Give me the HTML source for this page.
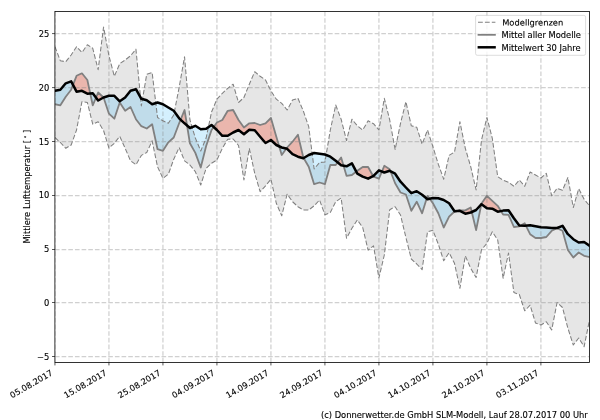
<!DOCTYPE html>
<html lang="de"><head><meta charset="utf-8"><title>Mittlere Lufttemperatur</title>
<style>html,body{margin:0;padding:0;background:#fff}svg{display:block}text{font-family:"DejaVu Sans", "Liberation Sans", sans-serif;font-size:8.33px;fill:#000;stroke:#000;stroke-width:0.12px}</style></head><body>
<svg width="600" height="420" viewBox="0 0 600 420">
<rect width="600" height="420" fill="#fff"/>
<defs><clipPath id="ax"><rect x="54.95" y="11.5" width="534.55" height="351"/></clipPath></defs>
<g clip-path="url(#ax)">
<polygon points="54.95,46.7 60.35,60.8 65.75,61.7 71.15,55 76.55,46.7 81.95,52.5 87.35,44.7 92.75,48.3 98.15,69.7 103.55,27 108.94,55.8 114.34,76.3 119.74,63.7 125.14,60 130.54,55.8 135.94,49.2 141.34,106 146.74,74.2 152.14,72.5 157.54,117.5 162.94,120.8 168.34,123.3 173.74,115 179.14,87.5 184.54,56.8 189.94,120 195.34,138 200.74,151 206.14,138 211.54,112 216.93,99.2 222.33,93.3 227.73,88.3 233.13,84.2 238.53,102.5 243.93,97.5 249.33,84.2 254.73,71.7 260.13,76.3 265.53,80 270.93,90.8 276.33,99.2 281.73,103.3 287.13,110 292.53,100 297.93,98.3 303.33,111 308.73,126.7 314.13,169 319.53,162.5 324.92,162 330.32,130 335.72,105 341.12,119.2 346.52,140.5 351.92,119.2 357.32,125.8 362.72,130 368.12,120.8 373.52,123.7 378.92,130 384.32,98.3 389.72,120 395.12,149.5 400.52,123.3 405.92,101.7 411.32,125.8 416.72,127.2 422.12,144.2 427.52,130 432.91,146.7 438.31,164.2 443.71,179.2 449.11,155.4 454.51,152 459.91,121.7 465.31,148.3 470.71,166.7 476.11,190 481.51,140 486.91,117.5 492.31,138.3 497.71,176.7 503.11,180.2 508.51,182.2 513.91,186.3 519.31,180 524.71,186.3 530.11,172 535.51,175 540.9,178 546.3,173.3 551.7,195.8 557.1,188.3 562.5,190.3 567.9,177.5 573.3,207.5 578.7,188.7 584.1,199.2 589.5,205.8 589.5,320 584.1,346.7 578.7,338 573.3,345 567.9,328.3 562.5,307.5 557.1,302.5 551.7,330 546.3,321.7 540.9,325 535.51,323 530.11,305.2 524.71,310.8 519.31,294.5 513.91,292.5 508.51,253 503.11,278.3 497.71,240 492.31,231.7 486.91,243.3 481.51,249.7 476.11,277.5 470.71,268.3 465.31,255.8 459.91,288.3 454.51,263.3 449.11,252.7 443.71,260.8 438.31,244.2 432.91,230.3 427.52,231.7 422.12,269.6 416.72,264 411.32,259 405.92,237.5 400.52,215 395.12,206.7 389.72,209.7 384.32,255 378.92,278 373.52,245.8 368.12,250.2 362.72,227.5 357.32,220 351.92,228.3 346.52,238.3 341.12,198 335.72,201.7 330.32,212.5 324.92,214.8 319.53,200 314.13,205.8 308.73,210 303.33,210 297.93,206.7 292.53,201.7 287.13,194.2 281.73,215.8 276.33,203.3 270.93,179.2 265.53,185.8 260.13,191.7 254.73,173.3 249.33,148.5 243.93,180 238.53,145.5 233.13,139 227.73,139.2 222.33,148.3 216.93,160 211.54,163.3 206.14,168.3 200.74,185 195.34,171.7 189.94,165 184.54,160.8 179.14,147.5 173.74,159.2 168.34,174.2 162.94,178.3 157.54,166.7 152.14,140.8 146.74,152.5 141.34,155.4 135.94,164.7 130.54,160.8 125.14,148.3 119.74,136.3 114.34,143.3 108.94,148 103.55,130.5 98.15,121.7 92.75,124.2 87.35,102.5 81.95,101.7 76.55,130 71.15,145 65.75,148.3 60.35,142.5 54.95,137.5" fill="#808080" fill-opacity="0.2"/>
<path d="M54.95 104.2 L60.35 105.3 L65.75 96.7 L71.15 89.7 L73.01 84.9 L73.01 84.9 L71.15 81.3 L65.75 83.3 L60.35 89.7 L54.95 90.8 Z M90.23 93.49 L92.75 105.3 L95.99 97.62 L95.99 97.62 L92.75 93.3 L90.23 93.49 Z M103.55 97.5 L108.94 113.7 L114.34 118.7 L119.74 102.5 L125.14 110.8 L130.54 107 L135.94 119.2 L141.34 126.2 L146.74 128.5 L152.14 124.2 L157.54 149.2 L162.94 150.8 L168.34 142.3 L173.74 137.5 L179.14 123.3 L180.61 119.67 L180.61 119.67 L179.14 118.3 L173.74 110.8 L168.34 107.5 L162.94 104.2 L157.54 102.5 L152.14 104.2 L146.74 100.3 L141.34 98.8 L135.94 89.2 L130.54 90.8 L125.14 97.5 L119.74 101.3 L114.34 95.8 L108.94 95.8 L103.55 97.5 Z M187.05 125.49 L189.94 143.3 L195.34 152.9 L200.74 167.5 L206.14 146 L211.54 130 L213.7 127 L213.7 127 L211.54 125 L206.14 128.7 L200.74 129.2 L195.34 125.8 L189.94 128 L187.05 125.49 Z M279.17 146.31 L281.73 155 L286.33 148.61 L286.33 148.61 L281.73 147.5 L279.17 146.31 Z M303.67 158.09 L308.73 166.7 L314.13 184.2 L319.53 182.5 L324.92 184.2 L330.32 165 L335.72 165 L337.61 162.38 L337.61 162.38 L335.72 160.8 L330.32 156.7 L324.92 154.5 L319.53 153.8 L314.13 153 L308.73 155 L303.67 158.09 Z M343.56 165.75 L346.52 175.8 L351.92 175 L356.25 171.63 L356.25 171.63 L351.92 163.3 L346.52 166.3 L343.56 165.75 Z M373.13 176.01 L373.52 176.7 L378.92 178.7 L381.92 171.52 L381.92 171.52 L378.92 170.3 L373.52 175.8 L373.13 176.01 Z M390.49 171.21 L395.12 183.3 L400.52 192.5 L405.92 194.5 L411.32 210.8 L416.72 201.7 L422.12 213.3 L426.68 198.5 L426.68 198.5 L422.12 194.7 L416.72 191.2 L411.32 193.2 L405.92 187.5 L400.52 181.7 L395.12 173.7 L390.49 171.21 Z M429.63 198.73 L432.91 203.3 L438.31 213.3 L443.71 227.5 L449.11 216.7 L454.51 211.5 L456.67 211.1 L456.67 211.1 L454.51 211.3 L449.11 203.3 L443.71 200 L438.31 198.3 L432.91 198 L429.63 198.73 Z M471.79 212 L476.11 230 L481.33 204.4 L481.33 204.4 L476.11 210 L471.79 212 Z M500.96 211.04 L503.11 214.5 L508.51 214.8 L513.91 227 L519.31 226.3 L520.62 225.57 L520.62 225.57 L519.31 225.5 L513.91 218.3 L508.51 210.2 L503.11 210.6 L500.96 211.04 Z M525.88 225.67 L530.11 234.2 L535.51 238 L540.9 238 L546.3 237 L551.7 230.8 L557.1 228.3 L562.5 230.8 L567.9 250 L573.3 257.5 L578.7 252.5 L584.1 255.8 L589.5 257 L589.5 245.8 L584.1 242 L578.7 242.5 L573.3 239.2 L567.9 234.2 L562.5 225.8 L557.1 228 L551.7 228 L546.3 227.5 L540.9 227.3 L535.51 226.3 L530.11 225.2 L525.88 225.67 Z" fill="#28b4fa" fill-opacity="0.2"/>
<path d="M73.01 84.9 L76.55 75.8 L81.95 73.3 L87.35 80 L90.23 93.49 L90.23 93.49 L87.35 93.7 L81.95 90.8 L76.55 91.7 L73.01 84.9 Z M95.99 97.62 L98.15 92.5 L103.55 97.5 L103.55 97.5 L98.15 100.5 L95.99 97.62 Z M180.61 119.67 L184.54 110 L187.05 125.49 L187.05 125.49 L184.54 123.3 L180.61 119.67 Z M213.7 127 L216.93 122.5 L222.33 120 L227.73 110.8 L233.13 110 L238.53 120 L243.93 127.5 L249.33 123.3 L254.73 123 L260.13 125 L265.53 123.3 L270.93 118 L276.33 136.7 L279.17 146.31 L279.17 146.31 L276.33 145 L270.93 140 L265.53 143 L260.13 136.7 L254.73 130.3 L249.33 129.7 L243.93 134.2 L238.53 130 L233.13 132.5 L227.73 135.8 L222.33 135.8 L216.93 130 L213.7 127 Z M286.33 148.61 L287.13 147.5 L292.53 141.7 L297.93 134.7 L303.33 157.5 L303.67 158.09 L303.67 158.09 L303.33 158.3 L297.93 156.7 L292.53 154.2 L287.13 148.8 L286.33 148.61 Z M337.61 162.38 L341.12 157.5 L343.56 165.75 L343.56 165.75 L341.12 165.3 L337.61 162.38 Z M356.25 171.63 L357.32 170.8 L362.72 167 L368.12 167 L373.13 176.01 L373.13 176.01 L368.12 178.7 L362.72 176.7 L357.32 173.7 L356.25 171.63 Z M381.92 171.52 L384.32 165.8 L389.72 169.2 L390.49 171.21 L390.49 171.21 L389.72 170.8 L384.32 172.5 L381.92 171.52 Z M426.68 198.5 L427.52 195.8 L429.63 198.73 L429.63 198.73 L427.52 199.2 L426.68 198.5 Z M456.67 211.1 L459.91 210.5 L465.31 210.4 L470.71 207.5 L471.79 212 L471.79 212 L470.71 212.5 L465.31 213.7 L459.91 210.8 L456.67 211.1 Z M481.33 204.4 L481.51 203.5 L486.91 195.8 L492.31 200.8 L497.71 205.8 L500.96 211.04 L500.96 211.04 L497.71 211.7 L492.31 208.7 L486.91 208.3 L481.51 204.2 L481.33 204.4 Z M520.62 225.57 L524.71 223.3 L525.88 225.67 L525.88 225.67 L524.71 225.8 L520.62 225.57 Z" fill="#f44a2a" fill-opacity="0.3"/>
<path d="M54.95 362.5 V11.5 M108.94 362.5 V11.5 M162.94 362.5 V11.5 M216.93 362.5 V11.5 M270.93 362.5 V11.5 M324.92 362.5 V11.5 M378.92 362.5 V11.5 M432.91 362.5 V11.5 M486.91 362.5 V11.5 M540.9 362.5 V11.5 M54.95 356.5 H589.5 M54.95 302.5 H589.5 M54.95 249.5 H589.5 M54.95 195.5 H589.5 M54.95 141.5 H589.5 M54.95 87.6 H589.5 M54.95 33.6 H589.5" fill="none" stroke="#808080" stroke-opacity="0.37" stroke-width="1.25" stroke-dasharray="4.65 2.01"/>
<polyline points="54.95,46.7 60.35,60.8 65.75,61.7 71.15,55 76.55,46.7 81.95,52.5 87.35,44.7 92.75,48.3 98.15,69.7 103.55,27 108.94,55.8 114.34,76.3 119.74,63.7 125.14,60 130.54,55.8 135.94,49.2 141.34,106 146.74,74.2 152.14,72.5 157.54,117.5 162.94,120.8 168.34,123.3 173.74,115 179.14,87.5 184.54,56.8 189.94,120 195.34,138 200.74,151 206.14,138 211.54,112 216.93,99.2 222.33,93.3 227.73,88.3 233.13,84.2 238.53,102.5 243.93,97.5 249.33,84.2 254.73,71.7 260.13,76.3 265.53,80 270.93,90.8 276.33,99.2 281.73,103.3 287.13,110 292.53,100 297.93,98.3 303.33,111 308.73,126.7 314.13,169 319.53,162.5 324.92,162 330.32,130 335.72,105 341.12,119.2 346.52,140.5 351.92,119.2 357.32,125.8 362.72,130 368.12,120.8 373.52,123.7 378.92,130 384.32,98.3 389.72,120 395.12,149.5 400.52,123.3 405.92,101.7 411.32,125.8 416.72,127.2 422.12,144.2 427.52,130 432.91,146.7 438.31,164.2 443.71,179.2 449.11,155.4 454.51,152 459.91,121.7 465.31,148.3 470.71,166.7 476.11,190 481.51,140 486.91,117.5 492.31,138.3 497.71,176.7 503.11,180.2 508.51,182.2 513.91,186.3 519.31,180 524.71,186.3 530.11,172 535.51,175 540.9,178 546.3,173.3 551.7,195.8 557.1,188.3 562.5,190.3 567.9,177.5 573.3,207.5 578.7,188.7 584.1,199.2 589.5,205.8" fill="none" stroke="#808080" stroke-width="1.05" stroke-dasharray="4.8 2.1" stroke-linejoin="round"/>
<polyline points="54.95,137.5 60.35,142.5 65.75,148.3 71.15,145 76.55,130 81.95,101.7 87.35,102.5 92.75,124.2 98.15,121.7 103.55,130.5 108.94,148 114.34,143.3 119.74,136.3 125.14,148.3 130.54,160.8 135.94,164.7 141.34,155.4 146.74,152.5 152.14,140.8 157.54,166.7 162.94,178.3 168.34,174.2 173.74,159.2 179.14,147.5 184.54,160.8 189.94,165 195.34,171.7 200.74,185 206.14,168.3 211.54,163.3 216.93,160 222.33,148.3 227.73,139.2 233.13,139 238.53,145.5 243.93,180 249.33,148.5 254.73,173.3 260.13,191.7 265.53,185.8 270.93,179.2 276.33,203.3 281.73,215.8 287.13,194.2 292.53,201.7 297.93,206.7 303.33,210 308.73,210 314.13,205.8 319.53,200 324.92,214.8 330.32,212.5 335.72,201.7 341.12,198 346.52,238.3 351.92,228.3 357.32,220 362.72,227.5 368.12,250.2 373.52,245.8 378.92,278 384.32,255 389.72,209.7 395.12,206.7 400.52,215 405.92,237.5 411.32,259 416.72,264 422.12,269.6 427.52,231.7 432.91,230.3 438.31,244.2 443.71,260.8 449.11,252.7 454.51,263.3 459.91,288.3 465.31,255.8 470.71,268.3 476.11,277.5 481.51,249.7 486.91,243.3 492.31,231.7 497.71,240 503.11,278.3 508.51,253 513.91,292.5 519.31,294.5 524.71,310.8 530.11,305.2 535.51,323 540.9,325 546.3,321.7 551.7,330 557.1,302.5 562.5,307.5 567.9,328.3 573.3,345 578.7,338 584.1,346.7 589.5,320" fill="none" stroke="#808080" stroke-width="1.05" stroke-dasharray="4.8 2.1" stroke-linejoin="round"/>
<polyline points="54.95,104.2 60.35,105.3 65.75,96.7 71.15,89.7 76.55,75.8 81.95,73.3 87.35,80 92.75,105.3 98.15,92.5 103.55,97.5 108.94,113.7 114.34,118.7 119.74,102.5 125.14,110.8 130.54,107 135.94,119.2 141.34,126.2 146.74,128.5 152.14,124.2 157.54,149.2 162.94,150.8 168.34,142.3 173.74,137.5 179.14,123.3 184.54,110 189.94,143.3 195.34,152.9 200.74,167.5 206.14,146 211.54,130 216.93,122.5 222.33,120 227.73,110.8 233.13,110 238.53,120 243.93,127.5 249.33,123.3 254.73,123 260.13,125 265.53,123.3 270.93,118 276.33,136.7 281.73,155 287.13,147.5 292.53,141.7 297.93,134.7 303.33,157.5 308.73,166.7 314.13,184.2 319.53,182.5 324.92,184.2 330.32,165 335.72,165 341.12,157.5 346.52,175.8 351.92,175 357.32,170.8 362.72,167 368.12,167 373.52,176.7 378.92,178.7 384.32,165.8 389.72,169.2 395.12,183.3 400.52,192.5 405.92,194.5 411.32,210.8 416.72,201.7 422.12,213.3 427.52,195.8 432.91,203.3 438.31,213.3 443.71,227.5 449.11,216.7 454.51,211.5 459.91,210.5 465.31,210.4 470.71,207.5 476.11,230 481.51,203.5 486.91,195.8 492.31,200.8 497.71,205.8 503.11,214.5 508.51,214.8 513.91,227 519.31,226.3 524.71,223.3 530.11,234.2 535.51,238 540.9,238 546.3,237 551.7,230.8 557.1,228.3 562.5,230.8 567.9,250 573.3,257.5 578.7,252.5 584.1,255.8 589.5,257" fill="none" stroke="#808080" stroke-width="1.8" stroke-linejoin="round" stroke-linecap="square"/>
<polyline points="54.95,90.8 60.35,89.7 65.75,83.3 71.15,81.3 76.55,91.7 81.95,90.8 87.35,93.7 92.75,93.3 98.15,100.5 103.55,97.5 108.94,95.8 114.34,95.8 119.74,101.3 125.14,97.5 130.54,90.8 135.94,89.2 141.34,98.8 146.74,100.3 152.14,104.2 157.54,102.5 162.94,104.2 168.34,107.5 173.74,110.8 179.14,118.3 184.54,123.3 189.94,128 195.34,125.8 200.74,129.2 206.14,128.7 211.54,125 216.93,130 222.33,135.8 227.73,135.8 233.13,132.5 238.53,130 243.93,134.2 249.33,129.7 254.73,130.3 260.13,136.7 265.53,143 270.93,140 276.33,145 281.73,147.5 287.13,148.8 292.53,154.2 297.93,156.7 303.33,158.3 308.73,155 314.13,153 319.53,153.8 324.92,154.5 330.32,156.7 335.72,160.8 341.12,165.3 346.52,166.3 351.92,163.3 357.32,173.7 362.72,176.7 368.12,178.7 373.52,175.8 378.92,170.3 384.32,172.5 389.72,170.8 395.12,173.7 400.52,181.7 405.92,187.5 411.32,193.2 416.72,191.2 422.12,194.7 427.52,199.2 432.91,198 438.31,198.3 443.71,200 449.11,203.3 454.51,211.3 459.91,210.8 465.31,213.7 470.71,212.5 476.11,210 481.51,204.2 486.91,208.3 492.31,208.7 497.71,211.7 503.11,210.6 508.51,210.2 513.91,218.3 519.31,225.5 524.71,225.8 530.11,225.2 535.51,226.3 540.9,227.3 546.3,227.5 551.7,228 557.1,228 562.5,225.8 567.9,234.2 573.3,239.2 578.7,242.5 584.1,242 589.5,245.8" fill="none" stroke="#000" stroke-width="2.5" stroke-linejoin="round" stroke-linecap="square"/>
</g>
<rect x="54.9" y="11.5" width="534.6" height="351" fill="none" stroke="#000" stroke-width="0.8"/>
<path d="M54.95 362.5 v2.92 M108.94 362.5 v2.92 M162.94 362.5 v2.92 M216.93 362.5 v2.92 M270.93 362.5 v2.92 M324.92 362.5 v2.92 M378.92 362.5 v2.92 M432.91 362.5 v2.92 M486.91 362.5 v2.92 M540.9 362.5 v2.92 M54.95 356.5 h-2.92 M54.95 302.5 h-2.92 M54.95 249.5 h-2.92 M54.95 195.5 h-2.92 M54.95 141.5 h-2.92 M54.95 87.6 h-2.92 M54.95 33.6 h-2.92" fill="none" stroke="#000" stroke-width="0.667"/>
<rect x="475.6" y="15.4" width="110" height="39.9" rx="1.7" fill="#fff" fill-opacity="0.8" stroke="#ccc" stroke-opacity="0.8" stroke-width="0.83"/>
<path d="M478 22.3 h17.4" stroke="#808080" stroke-width="1.05" stroke-dasharray="4.8 2.1" fill="none"/>
<path d="M477.6 34.8 h18.2" stroke="#808080" stroke-width="1.8" fill="none"/>
<path d="M477.6 47.3 h18.2" stroke="#000" stroke-width="2.5" fill="none"/>
<g style="filter:grayscale(1)">
<text x="49.4" y="360" text-anchor="end">−5</text>
<text x="49.4" y="306" text-anchor="end">0</text>
<text x="49.4" y="252" text-anchor="end">5</text>
<text x="49.4" y="198" text-anchor="end">10</text>
<text x="49.4" y="145" text-anchor="end">15</text>
<text x="49.4" y="91" text-anchor="end">20</text>
<text x="49.4" y="37" text-anchor="end">25</text>
<text x="53.4" y="374.6" text-anchor="end" transform="rotate(-30 53.4 374.6)">05.08.2017</text>
<text x="107.39" y="374.6" text-anchor="end" transform="rotate(-30 107.39 374.6)">15.08.2017</text>
<text x="161.39" y="374.6" text-anchor="end" transform="rotate(-30 161.39 374.6)">25.08.2017</text>
<text x="215.38" y="374.6" text-anchor="end" transform="rotate(-30 215.38 374.6)">04.09.2017</text>
<text x="269.38" y="374.6" text-anchor="end" transform="rotate(-30 269.38 374.6)">14.09.2017</text>
<text x="323.37" y="374.6" text-anchor="end" transform="rotate(-30 323.37 374.6)">24.09.2017</text>
<text x="377.37" y="374.6" text-anchor="end" transform="rotate(-30 377.37 374.6)">04.10.2017</text>
<text x="431.36" y="374.6" text-anchor="end" transform="rotate(-30 431.36 374.6)">14.10.2017</text>
<text x="485.36" y="374.6" text-anchor="end" transform="rotate(-30 485.36 374.6)">24.10.2017</text>
<text x="539.35" y="374.6" text-anchor="end" transform="rotate(-30 539.35 374.6)">03.11.2017</text>
<text transform="translate(30 243.6) rotate(-90)">Mittlere Lufttemperatur [<tspan dx="1.2" dy="-2.6" font-size="5.8">∘</tspan><tspan dx="2.1" dy="2.6">]</tspan></text>
<text x="587.7" y="418" text-anchor="end">(c) Donnerwetter.de GmbH SLM-Modell, Lauf 28.07.2017 00 Uhr</text>
<text x="502.2" y="25.5" transform="rotate(0.03 502.2 25.5)">Modellgrenzen</text>
<text x="501.5" y="38.3">Mittel aller Modelle</text>
<text x="501.5" y="50.8">Mittelwert 30 Jahre</text>
</g>
</svg></body></html>
